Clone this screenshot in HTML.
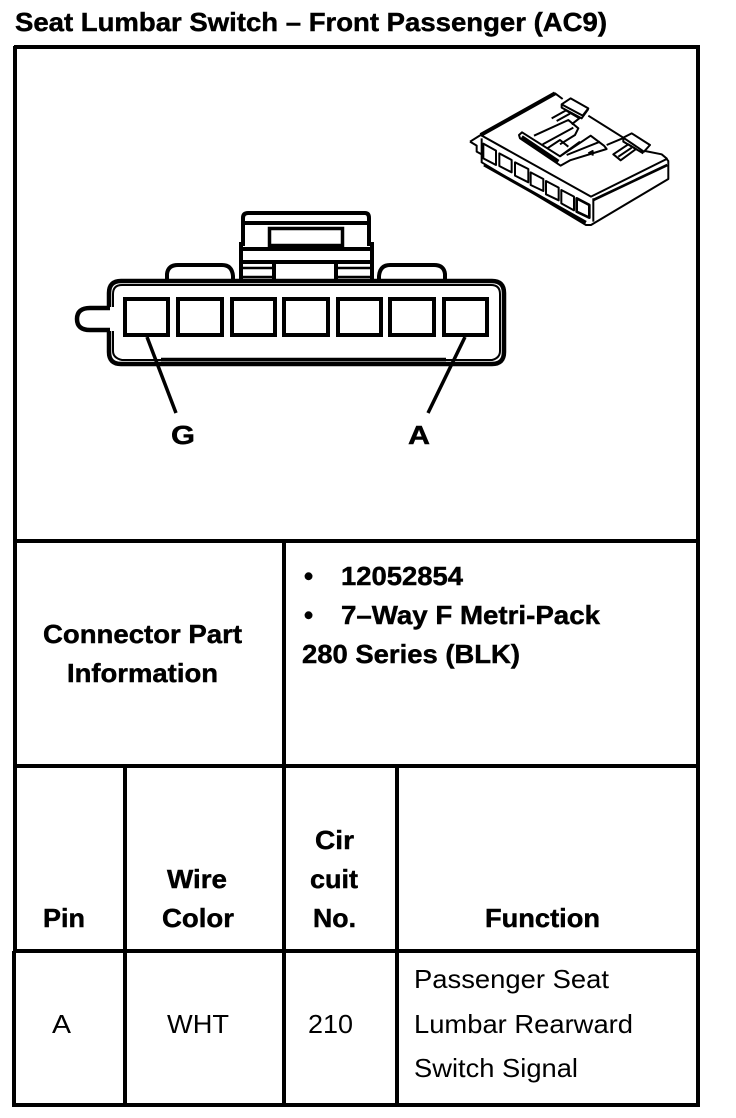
<!DOCTYPE html>
<html><head><meta charset="utf-8"><style>
html,body{margin:0;padding:0;background:#fff}
svg{display:block}
text{font-family:"Liberation Sans",sans-serif;fill:#000;font-size:26px}
.b{font-weight:bold;stroke:#000;stroke-width:.45px}
</style></head><body>
<svg width="736" height="1118" viewBox="0 0 736 1118" xmlns="http://www.w3.org/2000/svg">
<text class="b" x="15" y="31" textLength="592" lengthAdjust="spacingAndGlyphs">Seat Lumbar Switch – Front Passenger (AC9)</text>

<g stroke="#000" fill="none" stroke-width="4" shape-rendering="crispEdges">
<path d="M14 47H700M14 541H700M14 766H700M14 951H700M14 1105H698"/>
<path d="M15 46V951M14 951V1107M698 46V1107M284 541V1107M125 766V1107M397 766V1107"/>
</g>

<!-- front connector -->
<g stroke="#000" fill="none">
<path stroke-width="4.500" d="M109 307V293Q109 281 121 281H492Q504 281 504 293V352Q504 364 492 364H121Q109 364 109 352V331"/>
<path stroke-width="2" d="M113 307V294Q113 285 122 285H491Q500 285 500 294V351Q500 358 492 360H122Q113 358 113 351V331"/>
<path stroke-width="3.500" d="M161 359.500H446"/>
<path stroke-width="4.500" d="M110 308H90Q77 308 77 319Q77 330 90 330H110"/>
<g stroke-width="4">
<rect x="125" y="299" width="43" height="36"/>
<rect x="178" y="299" width="44" height="36"/>
<rect x="232" y="299" width="43" height="36"/>
<rect x="284" y="299" width="44" height="36"/>
<rect x="338" y="299" width="43" height="36"/>
<rect x="390" y="299" width="44" height="36"/>
<rect x="444" y="299" width="43" height="36"/>
</g>
<path stroke-width="3.500" d="M147 337L176 413M465 337L428 413"/>
<path stroke-width="4" d="M167 280V274Q168 265 178 265H222Q232 265 233 276V280M379 280V276Q380 265 390 265H434Q444 265 445 274V280"/>
<path stroke-width="4" d="M241 280V244H243V218Q243 213 248 213H365Q369 213 369 218V244H372V280"/>
<path stroke-width="4" d="M243 223H370M242 249H371M242 262H371M274 262V280M336 262V280"/>
<path stroke-width="2.500" d="M242 268H273M337 268H371M242 277H273M337 277H371"/>
<rect x="269.500" y="228.500" width="73" height="17" stroke-width="3.500"/>
</g>
<text class="b" x="171" y="444" textLength="24" lengthAdjust="spacingAndGlyphs">G</text>
<text class="b" x="408" y="444" textLength="22" lengthAdjust="spacingAndGlyphs">A</text>

<!-- isometric connector -->
<g transform="translate(460 85) scale(.3333)" stroke="#000" fill="none" stroke-width="6" stroke-linejoin="round">
<path stroke-width="12" d="M62 150L285 25"/>
<path d="M30 170L62 150L285 25L308 42M30 170L50 182V200L65 208M62 150L393 335L620 222L625 228V282L393 420L378 420L65 232V160"/>
<path d="M305 58L332 40L385 70L368 92L305 58ZM305 58V68L365 100L385 72"/>
<path d="M275 100L318 76L358 100L335 118M290 108L330 86"/>
<path d="M385 92L490 158M490 158L515 145L570 180L552 200L490 158ZM490 158V170L550 205"/>
<path d="M460 208L505 178L528 192L482 226ZM475 215L515 188M440 180L488 160"/>
<path d="M555 198L605 208L622 222"/>
<path d="M177 150L186 142L300 214L392 152L432 182L440 192L330 226L302 242L180 160Z"/>
<path stroke-width="12" d="M185 156L295 230"/>
<path d="M222 152L325 105L355 130L345 150L300 178M248 178L340 128M262 190L300 165L325 185M300 214L360 170M320 210L420 170M385 205L398 198V212"/>
<path stroke-width="8" d="M400 345L622 240"/>
<path stroke-width="9" d="M72 240L378 412"/>
<path d="M400 340V410"/>
<g stroke-width="6">
<path d="M70 176L108 197V240L70 220Z"/>
<path d="M118 205L155 225V262L118 243Z"/>
<path d="M165 232L205 252V292L165 272Z"/>
<path d="M212 262L250 282V318L212 300Z"/>
<path d="M258 288L296 308V346L258 328Z"/>
<path d="M304 315L342 335V376L304 355Z"/>
<path stroke-width="8" d="M350 340L388 360V398L350 380Z"/>
</g>
</g>

<!-- table text -->
<g>
<text class="b" x="43" y="643" textLength="199" lengthAdjust="spacingAndGlyphs">Connector Part</text>
<text class="b" x="67" y="682" textLength="151" lengthAdjust="spacingAndGlyphs">Information</text>
<text class="b" x="304" y="585">•</text>
<text class="b" x="304" y="624">•</text>
<text class="b" x="341" y="585" textLength="122" lengthAdjust="spacingAndGlyphs">12052854</text>
<text class="b" x="341" y="624" textLength="259" lengthAdjust="spacingAndGlyphs">7–Way F Metri-Pack</text>
<text class="b" x="302" y="663" textLength="218" lengthAdjust="spacingAndGlyphs">280 Series (BLK)</text>
<text class="b" x="315" y="849" textLength="39" lengthAdjust="spacingAndGlyphs">Cir</text>
<text class="b" x="310" y="888" textLength="48" lengthAdjust="spacingAndGlyphs">cuit</text>
<text class="b" x="313" y="927" textLength="43" lengthAdjust="spacingAndGlyphs">No.</text>
<text class="b" x="167" y="888" textLength="60" lengthAdjust="spacingAndGlyphs">Wire</text>
<text class="b" x="162" y="927" textLength="72" lengthAdjust="spacingAndGlyphs">Color</text>
<text class="b" x="43" y="927" textLength="42" lengthAdjust="spacingAndGlyphs">Pin</text>
<text class="b" x="485" y="927" textLength="115" lengthAdjust="spacingAndGlyphs">Function</text>
</g>
<text x="52" y="1033" textLength="19" lengthAdjust="spacingAndGlyphs">A</text>
<text x="167" y="1033" textLength="62" lengthAdjust="spacingAndGlyphs">WHT</text>
<text x="308" y="1033" textLength="45" lengthAdjust="spacingAndGlyphs">210</text>
<text x="414" y="988" textLength="195" lengthAdjust="spacingAndGlyphs">Passenger Seat</text>
<text x="414" y="1033" textLength="219" lengthAdjust="spacingAndGlyphs">Lumbar Rearward</text>
<text x="414" y="1077" textLength="164" lengthAdjust="spacingAndGlyphs">Switch Signal</text>
</svg>
</body></html>
